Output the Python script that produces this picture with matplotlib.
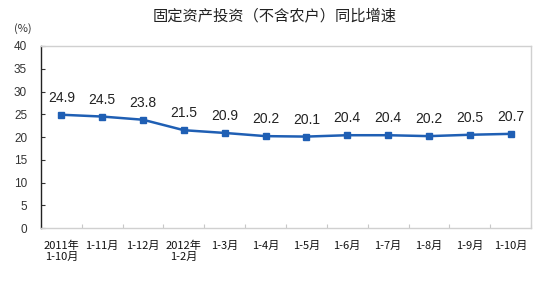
import matplotlib
matplotlib.use("Agg")
import matplotlib.pyplot as plt
import numpy as np

plt.rcParams['font.family'] = ['Noto Sans CJK SC', 'DejaVu Sans']

categories = ["2011年\n1-10月", "1-11月", "1-12月", "2012年\n1-2月", "1-3月", "1-4月",
              "1-5月", "1-6月", "1-7月", "1-8月", "1-9月", "1-10月"]
growth = [24.9, 24.5, 23.8, 21.5, 20.9, 20.2, 20.1, 20.4, 20.4, 20.2, 20.5, 20.7]
yticks = [0, 5, 10, 15, 20, 25, 30, 35, 40]

fig = plt.figure(figsize=(5.5, 2.83), dpi=100)
ax = fig.add_axes([0.0745, 0.194, 0.891, 0.6435])

x = np.arange(len(categories))
ax.plot(x, growth, color='#1f5fb4', lw=1.8, marker='s', ms=4.5)
for xi, v in zip(x, growth):
    ax.annotate(f"{v:.1f}", (xi, v), xytext=(0, 7), textcoords='offset points',
                ha='center', va='bottom', fontsize=10, color='#222222',
                family='Liberation Sans')

ax.set_xlim(-0.5, len(categories) - 0.5)
ax.set_ylim(0, 40)
ax.set_yticks(yticks)
ax.set_yticklabels([str(t) for t in yticks], fontsize=8.5, color='#333333',
                   family='Liberation Sans')
ax.tick_params(axis='y', direction='in', length=3, width=0.8, pad=10, color='#333333')

# category boundary ticks on the x axis
ax.set_xticks(np.arange(-0.5, len(categories)), minor=False)
ax.set_xticklabels([])
ax.set_xticks(x, minor=True)
ax.set_xticklabels(categories, minor=True, fontsize=8, linespacing=1.15,
                   color='#111111')
ax.tick_params(axis='x', which='major', direction='in', length=3, color='#c8c8c8')
ax.tick_params(axis='x', which='minor', length=0, pad=9)

ax.spines['left'].set_color('#222222')
ax.spines['left'].set_linewidth(1)
for s in ['top', 'right', 'bottom']:
    ax.spines[s].set_color('#d0d0d0')
    ax.spines[s].set_linewidth(1)

fig.text(0.5, 0.945, "固定资产投资（不含农户）同比增速", ha='center', va='center',
         fontsize=11, color='#222222')
fig.text(0.025, 0.9, "(%)", ha='left', va='center', fontsize=8, color='#333333')

fig.savefig("out.png", dpi=100)
